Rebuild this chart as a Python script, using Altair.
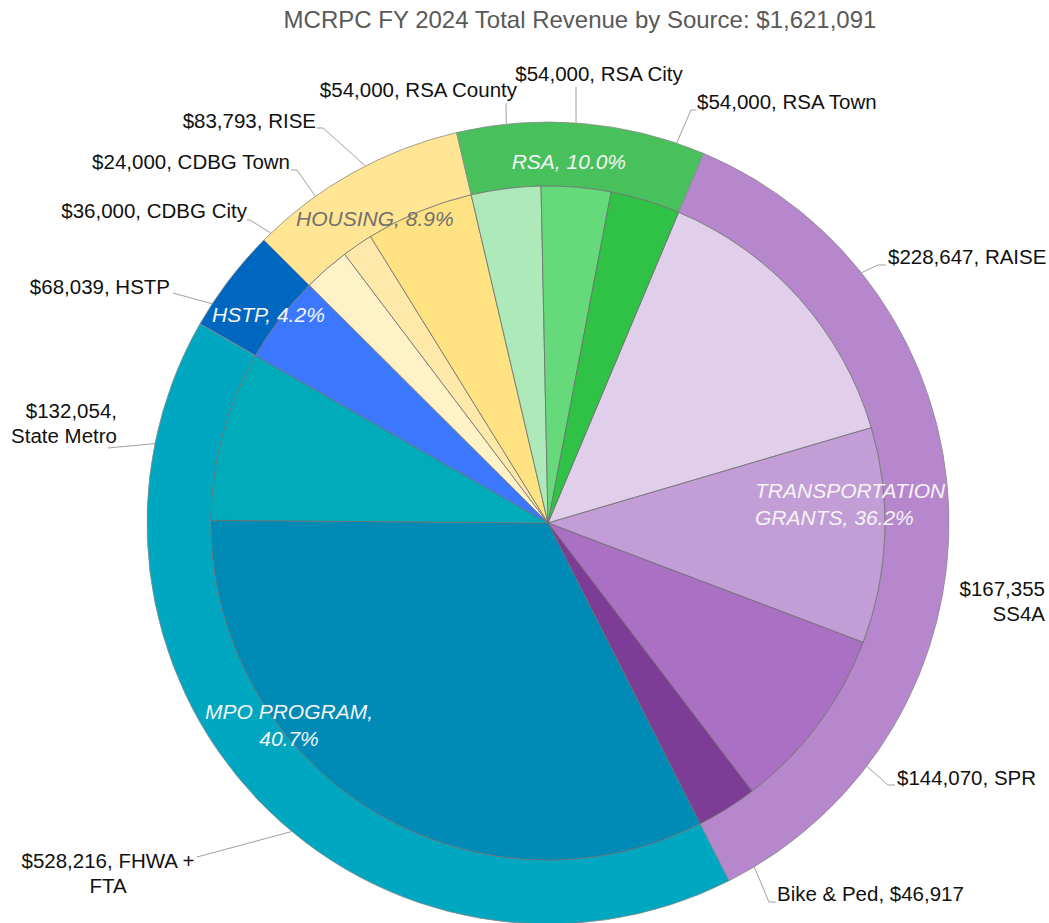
import math
import altair as alt
import pandas as pd

# ---------------- data ----------------
TITLE = "MCRPC FY 2024 Total Revenue by Source: $1,621,091"

categories = ["TRANSPORTATION GRANTS", "MPO PROGRAM", "HSTP", "HOUSING", "RSA"]
category_colors = ["#b787ce", "#00a7c1", "#0067c0", "#ffe594", "#48c15c"]

sources = ["RAISE", "SS4A", "SPR", "Bike & Ped", "FHWA + FTA", "State Metro", "HSTP",
           "CDBG City", "CDBG Town", "RISE", "RSA County", "RSA City", "RSA Town"]
source_category = (["TRANSPORTATION GRANTS"] * 4 + ["MPO PROGRAM"] * 2 + ["HSTP"]
                   + ["HOUSING"] * 3 + ["RSA"] * 3)
source_values = [228647, 167355, 144070, 46917, 528216, 132054, 68039,
                 36000, 24000, 83793, 54000, 54000, 54000]
source_colors = ["#e0ceeb", "#c39dd6", "#aa70c4", "#7d3d96", "#008bb7", "#00acb9", "#3b78ff",
                 "#fff2c7", "#ffe9aa", "#ffe282", "#aeeab9", "#66d97a", "#2fc247"]

# ---------------- layout ----------------
W, H = 1049, 923
CX, CY = 548, 523
R_OUT, R_IN = 401, 337
START_DEG = 22.8
FONT = "Liberation Sans"

LABEL_FORMAT = {"SS4A": "{v}\n{n}", "Bike & Ped": "{n}, {v}",
                "FHWA + FTA": "{v}, FHWA +\nFTA", "State Metro": "{v},\n{n}"}
# nudge: degrees from slice mid-angle where leader leaves ring; elbow/tail: leader bends; text: label anchor
LABEL_LAYOUT = {
    "RAISE":       dict(nudge=3.2,  elbow=(878, 265), tail=(886, 265), text=(888, 258), align="left"),
    "SS4A":        dict(nudge=None, elbow=None, tail=None, text=(1045, 590), align="right"),
    "SPR":         dict(nudge=0.6,  elbow=(888, 785), tail=(895, 785), text=(897, 779), align="left"),
    "Bike & Ped":  dict(nudge=1.1,  elbow=(769, 902), tail=(776, 902), text=(777, 895), align="left"),
    "FHWA + FTA":  dict(nudge=7.9,  elbow=(197, 857), tail=None, text=(108, 862), align="center"),
    "State Metro": dict(nudge=-3.7, elbow=(108, 448), tail=None, text=(117, 412), align="right"),
    "HSTP":        dict(nudge=-4.2, elbow=(173, 293), tail=None, text=(170, 288), align="right"),
    "CDBG City":   dict(nudge=-2.6, elbow=(250, 220), tail=(247, 220), text=(247, 212), align="right"),
    "CDBG Town":   dict(nudge=-1.0, elbow=(297, 170), tail=(291, 170), text=(290, 163), align="right"),
    "RISE":        dict(nudge=-4.6, elbow=(323, 128), tail=(317, 128), text=(316, 122), align="right"),
    "RSA County":  dict(nudge=1.2,  elbow=(506, 103), tail=None, text=(517, 91), align="right"),
    "RSA City":    dict(nudge=-0.8, elbow=(576, 87), tail=None, text=(599, 75), align="center"),
    "RSA Town":    dict(nudge=1.9,  elbow=(691, 110), tail=(696, 110), text=(697, 103), align="left"),
}
# category label: angle offset from category mid, radius, align, text color
CAT_LAYOUT = {
    "TRANSPORTATION GRANTS": dict(dth=-6.6, r=209.4, align="left", color="#f4f4f4"),
    "MPO PROGRAM":           dict(dth=7.2, r=321.5, align="center", color="#f4f4f4"),
    "HSTP":                  dict(dth=-0.8, r=348, align="center", color="#f4f4f4"),
    "HOUSING":               dict(dth=-0.6, r=349, align="center", color="#707070"),
    "RSA":                   dict(dth=-1.5, r=360.6, align="center", color="#f4f4f4"),
}


def polar(deg, r):
    a = math.radians(deg)
    return CX + r * math.sin(a), CY - r * math.cos(a)


total = sum(source_values)


def theta_scale():
    return alt.Scale(domain=[0, total],
                     range=[math.radians(START_DEG), math.radians(START_DEG) + 2 * math.pi])


# ---- inner slices ----
rows, cum = [], 0
for i, (s, c, v, col) in enumerate(zip(sources, source_category, source_values, source_colors)):
    a_start = START_DEG + cum / total * 360
    cum += v
    a_end = START_DEG + cum / total * 360
    rows.append(dict(idx=i, source=s, category=c, value=v, fill=col, mid=(a_start + a_end) / 2))
src_df = pd.DataFrame(rows)

# ---- outer ring ----
cat_values = [sum(v for v, c in zip(source_values, source_category) if c == cat) for cat in categories]
crow, cum = [], 0
for i, (c, v, col) in enumerate(zip(categories, cat_values, category_colors)):
    a_start = START_DEG + cum / total * 360
    cum += v
    a_end = START_DEG + cum / total * 360
    crow.append(dict(idx=i, category=c, value=v, fill=col, mid=(a_start + a_end) / 2))
cat_df = pd.DataFrame(crow)

inner = alt.Chart(src_df).mark_arc(radius=R_IN, stroke="#6e6e6e", strokeWidth=0.8).encode(
    theta=alt.Theta("value:Q", stack=True, scale=theta_scale()),
    color=alt.Color("fill:N", scale=None),
    order=alt.Order("idx:Q"),
    x=alt.value(CX), y=alt.value(CY),
)
outer = alt.Chart(cat_df).mark_arc(radius=R_OUT, innerRadius=R_IN, stroke="#8a8a8a", strokeWidth=0.8).encode(
    theta=alt.Theta("value:Q", stack=True, scale=theta_scale()),
    color=alt.Color("fill:N", scale=None),
    order=alt.Order("idx:Q"),
    x=alt.value(CX), y=alt.value(CY),
)

# ---- source labels and leader lines ----
lab_rows, seg_rows = [], []
for r in rows:
    lay = LABEL_LAYOUT[r["source"]]
    fmt = LABEL_FORMAT.get(r["source"], "{v}, {n}")
    text = fmt.format(v=f"${r['value']:,}", n=r["source"])
    tx, ty = lay["text"]
    lab_rows.append(dict(label=text, x=tx, y=ty, align=lay["align"]))
    if lay["nudge"] is not None:
        ax, ay = polar(r["mid"] + lay["nudge"], R_OUT)
        ex, ey = lay["elbow"]
        seg_rows.append(dict(x=ax, y=ay, x2=ex, y2=ey))
        if lay["tail"] is not None:
            seg_rows.append(dict(x=ex, y=ey, x2=lay["tail"][0], y2=lay["tail"][1]))
lab_df = pd.DataFrame(lab_rows)
seg_df = pd.DataFrame(seg_rows)

leaders = alt.Chart(seg_df).mark_rule(color="#a0a0a0", strokeWidth=1).encode(
    x=alt.X("x:Q", scale=None), y=alt.Y("y:Q", scale=None),
    x2="x2:Q", y2="y2:Q",
)

label_layers = []
for al in ["left", "right", "center"]:
    sub = lab_df[lab_df["align"] == al]
    if len(sub) == 0:
        continue
    label_layers.append(
        alt.Chart(sub).mark_text(align=al, baseline="middle", font=FONT, fontSize=20.5,
                                 color="#111111", lineBreak="\n", lineHeight=25).encode(
            x=alt.X("x:Q", scale=None), y=alt.Y("y:Q", scale=None), text="label:N")
    )

# ---- category labels ----
cl_rows = []
for r in crow:
    lay = CAT_LAYOUT[r["category"]]
    pct = f"{r['value'] / total * 100:.1f}"
    if r["category"] == "TRANSPORTATION GRANTS":
        text = f"{r['category']}, {pct}%".replace(" ", "\n", 1)
    elif r["category"] == "MPO PROGRAM":
        text = f"{r['category']},\n{pct}%"
    else:
        text = f"{r['category']}, {pct}%"
    px, py = polar(r["mid"] + lay["dth"], lay["r"])
    cl_rows.append(dict(label=text, x=px, y=py, align=lay["align"], tcolor=lay["color"]))
cl_df = pd.DataFrame(cl_rows)

cat_layers = []
for al in ["left", "center"]:
    sub = cl_df[cl_df["align"] == al]
    cat_layers.append(
        alt.Chart(sub).mark_text(align=al, baseline="middle", font=FONT, fontSize=21,
                                 fontStyle="italic", lineBreak="\n", lineHeight=27).encode(
            x=alt.X("x:Q", scale=None), y=alt.Y("y:Q", scale=None), text="label:N",
            color=alt.Color("tcolor:N", scale=None))
    )

title = alt.Chart(pd.DataFrame({"t": [TITLE]})).mark_text(
    align="center", baseline="middle", font=FONT, fontSize=24, color="#595959").encode(
    x=alt.value(580), y=alt.value(21), text="t:N")

chart = alt.layer(outer, inner, leaders, *label_layers, *cat_layers, title).properties(
    width=W, height=H,
    autosize=alt.AutoSizeParams(type="none"),
    padding=0,
    background="white",
).resolve_scale(color="independent").configure_view(stroke=None)

chart.save("out.html", embed_options={"renderer": "svg", "actions": False})
